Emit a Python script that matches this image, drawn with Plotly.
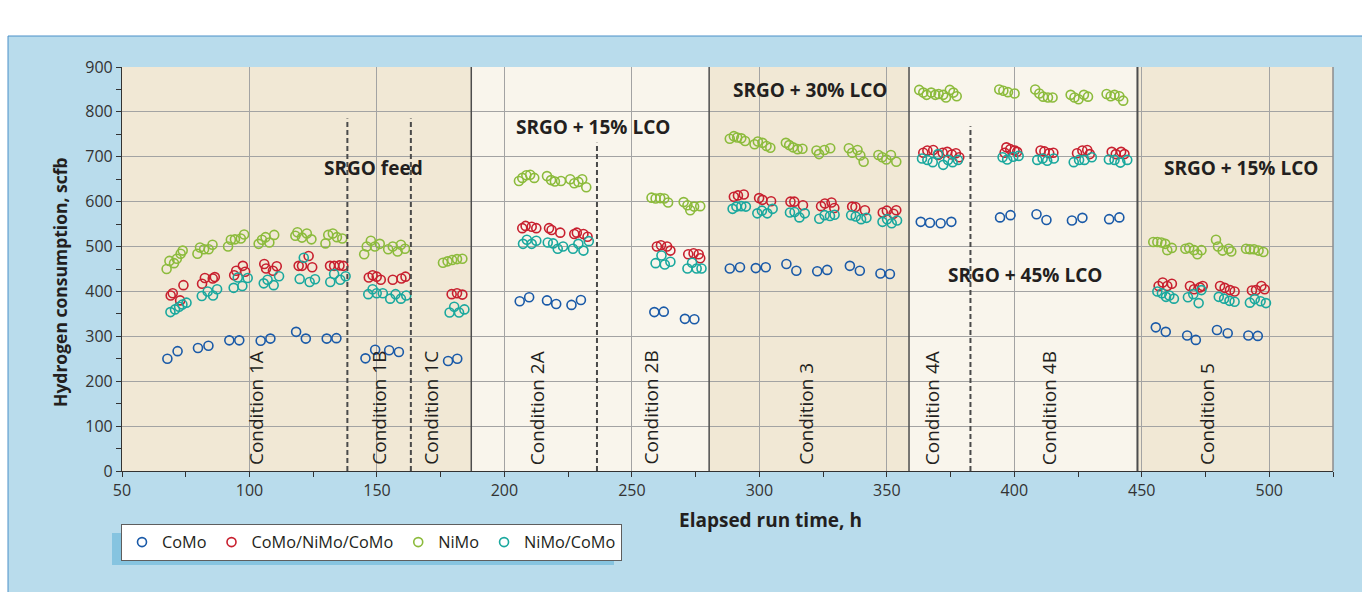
import plotly.graph_objects as go

# ---------------- data (elapsed run time h, hydrogen consumption scfb) ----------------
como_x = [67.8, 71.8, 79.8, 83.9, 92.1, 96.0, 104.4, 108.2, 118.3, 122.1, 130.3, 134.1,
          145.5, 149.3, 154.8, 158.6, 177.9, 181.5,
          206.0, 209.7, 216.7, 220.3, 226.3, 230.0, 258.8, 262.5, 270.8, 274.5,
          288.4, 292.4, 298.6, 302.5, 310.6, 314.5, 322.7, 326.6, 335.5, 339.4, 347.5, 351.2,
          363.3, 366.9, 371.1, 375.3, 394.4, 398.5, 408.7, 412.6, 422.6, 426.7, 437.2, 441.2,
          455.5, 459.4, 467.8, 471.2, 479.5, 483.7, 491.8, 495.5]
como_y = [250, 267, 274, 279, 291, 291, 290, 295, 310, 295, 295, 296,
          251, 270, 269, 265, 245, 250,
          378, 387, 380, 372, 370, 381, 354, 355, 339, 338,
          451, 454, 452, 454, 461, 446, 445, 448, 457, 446, 440, 439,
          555, 553, 552, 555, 565, 570, 572, 559, 558, 564, 561, 565,
          320, 310, 302, 292, 314, 307, 302, 301]

cnc_x = [69.1, 69.9, 72.8, 74.1, 81.4, 82.5, 85.6, 86.4, 94.0, 94.8, 97.4, 98.3, 105.8, 106.5,
         109.2, 110.7, 119.3, 120.6, 123.2, 124.6, 131.6, 133.2, 135.3, 136.8,
         146.8, 148.3, 149.9, 151.5, 156.2, 159.6, 161.2, 179.3, 181.4, 183.5,
         207.0, 208.3, 210.7, 212.5, 217.5, 218.5, 221.9, 227.4, 228.4, 231.0, 232.6,
         259.8, 261.4, 263.8, 265.1, 272.1, 274.2, 276.2, 276.8,
         290.0, 291.6, 293.9, 299.9, 301.2, 304.6, 312.2, 313.7, 317.1, 324.2, 325.7, 328.3,
         329.4, 336.4, 337.7, 341.4, 348.4, 350.0, 353.7, 352.6,
         364.3, 365.9, 368.2, 370.1, 371.9, 373.7, 375.5, 377.1, 378.4,
         396.9, 398.4, 400.1, 401.1, 396.2, 410.3, 411.8, 413.7, 415.3, 424.6, 426.7, 428.6,
         429.6, 438.2, 439.8, 441.9, 443.2,
         456.6, 458.2, 460.0, 461.8, 468.9, 470.5, 472.8, 473.9, 480.7, 482.5, 484.6, 486.4,
         493.2, 494.8, 496.9, 498.2]
cnc_y = [391, 396, 380, 414, 417, 430, 429, 432, 436, 446, 457, 444, 461, 451,
         446, 456, 457, 457, 479, 454, 457, 457, 458, 457,
         431, 436, 433, 426, 426, 429, 433, 394, 396, 393,
         541, 546, 544, 541, 541, 537, 531, 528, 531, 528, 522,
         500, 503, 500, 491, 483, 485, 483, 474,
         611, 614, 616, 608, 604, 601, 600, 600, 592, 590, 596, 598,
         586, 589, 588, 581, 576, 580, 581, 573,
         709, 714, 715, 704, 709, 711, 705, 708, 699,
         721, 717, 714, 711, 709, 714, 712, 708, 709, 708, 714, 715,
         706, 711, 706, 711, 706,
         412, 420, 412, 417, 412, 405, 409, 412, 412, 408, 403, 400,
         402, 403, 412, 405]

nimo_x = [67.5, 68.6, 70.4, 71.5, 73.0, 73.8, 79.6, 80.6, 82.2, 84.0, 85.5, 91.6, 92.7, 94.3,
          96.6, 97.9, 103.6, 104.9, 106.3, 107.8, 109.7, 118.0, 118.8, 120.6, 122.5, 124.3,
          129.8, 130.9, 132.7, 134.3, 136.4,
          145.0, 146.0, 147.6, 149.2, 151.1, 154.4, 156.2, 158.1, 159.4, 161.0,
          175.9, 177.7, 179.5, 181.4, 183.5,
          205.7, 207.0, 208.6, 210.1, 211.7, 216.7, 218.3, 219.8, 222.2, 225.8, 227.4, 229.0,
          230.5, 232.1,
          257.7, 259.3, 261.1, 262.7, 264.2, 270.3, 271.8, 272.9, 274.4, 276.8,
          288.4, 290.0, 291.3, 292.9, 294.4, 298.1, 299.4, 301.2, 302.8, 304.3, 310.4, 311.7,
          313.2, 315.0, 316.9, 322.4, 323.4, 325.5, 327.8, 335.1, 336.4, 338.5, 339.6, 340.9,
          346.7, 348.2, 349.8, 351.6, 353.7,
          362.7, 364.3, 365.6, 367.4, 369.0, 370.3, 372.1, 373.2, 374.7, 376.1, 377.4,
          394.1, 395.7, 397.5, 400.1, 408.2, 409.8, 411.3, 413.2, 415.0, 422.1, 423.6, 425.2,
          427.3, 428.9, 436.2, 437.8, 439.3, 441.2, 442.7,
          454.5, 456.1, 457.7, 459.2, 460.0, 461.8, 467.1, 468.6, 470.5, 471.8, 473.4, 479.1,
          479.9, 481.7, 484.1, 485.1, 490.9, 492.4, 494.0, 495.8, 497.7]
nimo_y = [450, 468, 463, 473, 484, 491, 484, 498, 494, 494, 504, 500, 515, 516,
          518, 527, 506, 515, 521, 509, 526, 524, 532, 520, 529, 516,
          507, 526, 529, 521, 518,
          483, 500, 513, 500, 506, 494, 500, 489, 504, 495,
          464, 467, 470, 472, 473,
          646, 653, 659, 660, 653, 657, 648, 645, 646, 650, 641, 644,
          650, 632,
          609, 607, 608, 607, 598, 599, 592, 581, 589, 590,
          740, 746, 743, 741, 735, 728, 734, 731, 724, 720, 731, 726,
          721, 717, 718, 714, 706, 715, 719, 719, 709, 715, 703, 689,
          704, 699, 694, 704, 689,
          849, 843, 838, 843, 838, 840, 838, 832, 849, 843, 835,
          850, 847, 844, 841, 850, 841, 834, 832, 832, 838, 832, 828,
          838, 834, 840, 835, 838, 835, 825,
          510, 510, 509, 506, 492, 497, 495, 497, 492, 483, 492, 515,
          500, 491, 495, 489, 495, 494, 494, 491, 488]

nc_x = [69.0, 70.8, 72.4, 73.7, 75.3, 81.3, 83.6, 85.7, 87.3, 93.8, 95.4, 97.2, 99.3,
        105.6, 107.1, 109.5, 111.6, 119.7, 121.3, 123.6, 125.7, 131.7, 133.2, 135.6, 137.7,
        146.6, 148.3, 149.9, 152.3, 155.2, 157.3, 159.4, 161.5,
        178.5, 180.3, 182.2, 184.3,
        207.3, 208.8, 210.7, 212.5, 217.0, 219.1, 220.9, 223.0, 226.9, 229.0, 231.0, 233.1,
        259.3, 261.6, 262.9, 265.1, 271.8, 273.6, 275.4, 277.3,
        289.5, 291.0, 292.9, 294.7, 299.2, 301.0, 303.1, 305.2, 312.0, 313.8, 315.7, 317.8,
        323.5, 325.6, 327.7, 329.5, 336.0, 337.8, 339.9, 342.0, 348.3, 350.1, 351.9, 354.0,
        363.8, 365.9, 368.0, 370.1, 372.1, 374.0, 375.8, 377.9,
        395.4, 397.2, 399.6, 401.7, 409.0, 411.1, 412.9, 415.5, 423.3, 425.4, 427.5, 430.4,
        437.1, 439.3, 441.6, 444.3,
        456.1, 457.9, 459.5, 460.8, 462.6, 468.1, 470.2, 472.3, 473.4, 480.2, 482.3, 484.4,
        486.4, 492.4, 494.3, 496.6, 498.7]
nc_y = [354, 360, 366, 371, 375, 390, 400, 391, 405, 408, 431, 412, 430,
        418, 426, 414, 434, 428, 475, 421, 427, 421, 439, 426, 434,
        394, 405, 396, 396, 384, 394, 384, 391,
        353, 366, 353, 360,
        506, 515, 506, 513, 509, 507, 495, 500, 495, 506, 491, 512,
        463, 480, 460, 466, 451, 464, 451, 451,
        584, 589, 590, 589, 574, 580, 574, 584, 576, 577, 565, 574,
        562, 570, 568, 571, 570, 567, 561, 564, 555, 561, 552, 558,
        696, 693, 688, 706, 682, 693, 688, 693,
        699, 694, 700, 702, 693, 696, 691, 696, 688, 693, 693, 699,
        694, 693, 687, 693,
        400, 396, 388, 391, 384, 387, 394, 374, 403, 388, 384, 379,
        377, 375, 383, 378, 374]

series_names = ["CoMo", "CoMo/NiMo/CoMo", "NiMo", "NiMo/CoMo"]
series_colors = ["#1a5aa8", "#c8202f", "#8cbb3c", "#1aa89e"]

# feed / condition layout (h)
band_edges = [50, 187, 280.3, 358.7, 448.3, 525]
band_fills = ["#f1e8d5", "#f9f5ec", "#f1e8d5", "#f9f5ec", "#f1e8d5"]
solid_lines = [187, 280.3, 358.7, 448.3]
dashed_lines = [(138.4, 785), (163.3, 785), (236.3, 731), (382.8, 768)]

feed_labels = ["SRGO feed", "SRGO + 15% LCO", "SRGO + 30% LCO", "SRGO + 45% LCO", "SRGO + 15% LCO"]
feed_x = [148.5, 234.6, 320.0, 404.2, 488.8]
feed_y = [674, 766, 849, 437, 676]

cond_labels = ["Condition 1A", "Condition 1B", "Condition 1C", "Condition 2A", "Condition 2B",
               "Condition 3", "Condition 4A", "Condition 4B", "Condition 5"]
cond_x = [102.6, 150.7, 171.1, 212.9, 257.3, 318.2, 367.8, 413.7, 475.6]

x_ticks = [50, 100, 150, 200, 250, 300, 350, 400, 450, 500]
y_ticks = [0, 100, 200, 300, 400, 500, 600, 700, 800, 900]

# ---------------- figure ----------------
W, H = 1362, 592
L, R, T, B = 122, 29, 67, 121
PW, PH = W - L - R, H - T - B


def px(x):
    return (x - L) / PW


def py(y):
    return (H - B - y) / PH


FONT = "Open Sans, Noto Sans, DejaVu Sans, sans-serif"
TXT = "#231f20"

fig = go.Figure()
for name, col, xs, ys in zip(series_names, series_colors,
                             [como_x, cnc_x, nimo_x, nc_x], [como_y, cnc_y, nimo_y, nc_y]):
    fig.add_trace(go.Scatter(
        x=xs, y=ys, mode="markers", name=name,
        marker=dict(symbol="circle-open", size=9, color=col, line=dict(width=1.6, color=col)),
    ))

shapes = []
# blue panel
shapes.append(dict(type="rect", xref="paper", yref="paper", x0=px(8), x1=px(1370), y0=py(600), y1=py(36),
                   fillcolor="#b9dcec", line=dict(color="#4a90c8", width=1), layer="below"))
# legend shadow
shapes.append(dict(type="rect", xref="paper", yref="paper", x0=px(112), x1=px(614), y0=py(565), y1=py(533),
                   fillcolor="#86c4e0", line=dict(width=0), layer="below"))
# bands
for i, fc in enumerate(band_fills):
    shapes.append(dict(type="rect", xref="x", yref="paper", x0=band_edges[i], x1=band_edges[i + 1],
                       y0=0, y1=1, fillcolor=fc, line=dict(width=0), layer="below"))
for xv in solid_lines:
    shapes.append(dict(type="line", xref="x", yref="paper", x0=xv, x1=xv, y0=0, y1=1,
                       line=dict(color="#4d4d4d", width=2 if xv > 440 else 1.5)))
for xv, ytop in dashed_lines:
    shapes.append(dict(type="line", xref="x", yref="y", x0=xv, x1=xv, y0=0, y1=ytop,
                       line=dict(color="#4a4a4a", width=2, dash="5px,3px")))
# right border of plot
shapes.append(dict(type="line", xref="paper", yref="paper", x0=1, x1=1, y0=0, y1=1,
                   line=dict(color="#8c8c8c", width=1.5)))

annotations = []
for t, xv, yv in zip(feed_labels, feed_x, feed_y):
    annotations.append(dict(x=xv, y=yv, xref="x", yref="y", text="<b>%s</b>" % t, showarrow=False,
                            xanchor="center", yanchor="middle",
                            font=dict(family=FONT, size=19, color=TXT)))
for t, xv in zip(cond_labels, cond_x):
    annotations.append(dict(x=xv, y=9, xref="x", yref="y", text=t, showarrow=False, textangle=-90,
                            xanchor="center", yanchor="bottom", font=dict(family=FONT, size=19, color=TXT)))
annotations.append(dict(x=px(770), y=py(520), xref="paper", yref="paper", text="<b>Elapsed run time, h</b>",
                        xanchor="center", yanchor="middle",
                        showarrow=False, font=dict(family=FONT, size=19, color=TXT)))
annotations.append(dict(x=px(60), y=py(282), xref="paper", yref="paper",
                        text="<b>Hydrogen consumption, scfb</b>", textangle=-90,
                        xanchor="center", yanchor="middle",
                        showarrow=False, font=dict(family=FONT, size=17.5, color=TXT)))

axis_common = dict(showline=True, linecolor="#333333", linewidth=1.2, ticks="outside", ticklen=5,
                   tickcolor="#333333", showgrid=True, gridcolor="#a3a3a3", gridwidth=1,
                   zeroline=False, tickfont=dict(family=FONT, size=16, color="#333333"))

fig.update_layout(
    width=W, height=H,
    margin=dict(l=L, r=R, t=T, b=B, autoexpand=False),
    paper_bgcolor="white",
    plot_bgcolor="#f1e8d5",
    shapes=shapes,
    annotations=annotations,
    xaxis=dict(range=[50, 525], tickvals=x_ticks, ticktext=[str(v) for v in x_ticks],
               minor=dict(dtick=25, tick0=50, ticks="outside", ticklen=5, tickcolor="#333333", showgrid=False),
               **axis_common),
    yaxis=dict(range=[0, 900], tickvals=y_ticks, ticktext=[str(v) for v in y_ticks],
               minor=dict(dtick=50, tick0=0, ticks="outside", ticklen=5, tickcolor="#333333", showgrid=False),
               **axis_common),
    showlegend=True,
    legend=dict(orientation="h", x=px(121), y=py(524), xanchor="left", yanchor="top",
                bgcolor="white", bordercolor="#5e5e5e", borderwidth=1,
                font=dict(family=FONT, size=16.3, color=TXT), itemwidth=30, tracegroupgap=0),
)

fig.write_html(
    "out.html",
    config={"displayModeBar": False},
    post_script="document.body.style.margin='0';document.body.style.overflow='hidden';",
)
